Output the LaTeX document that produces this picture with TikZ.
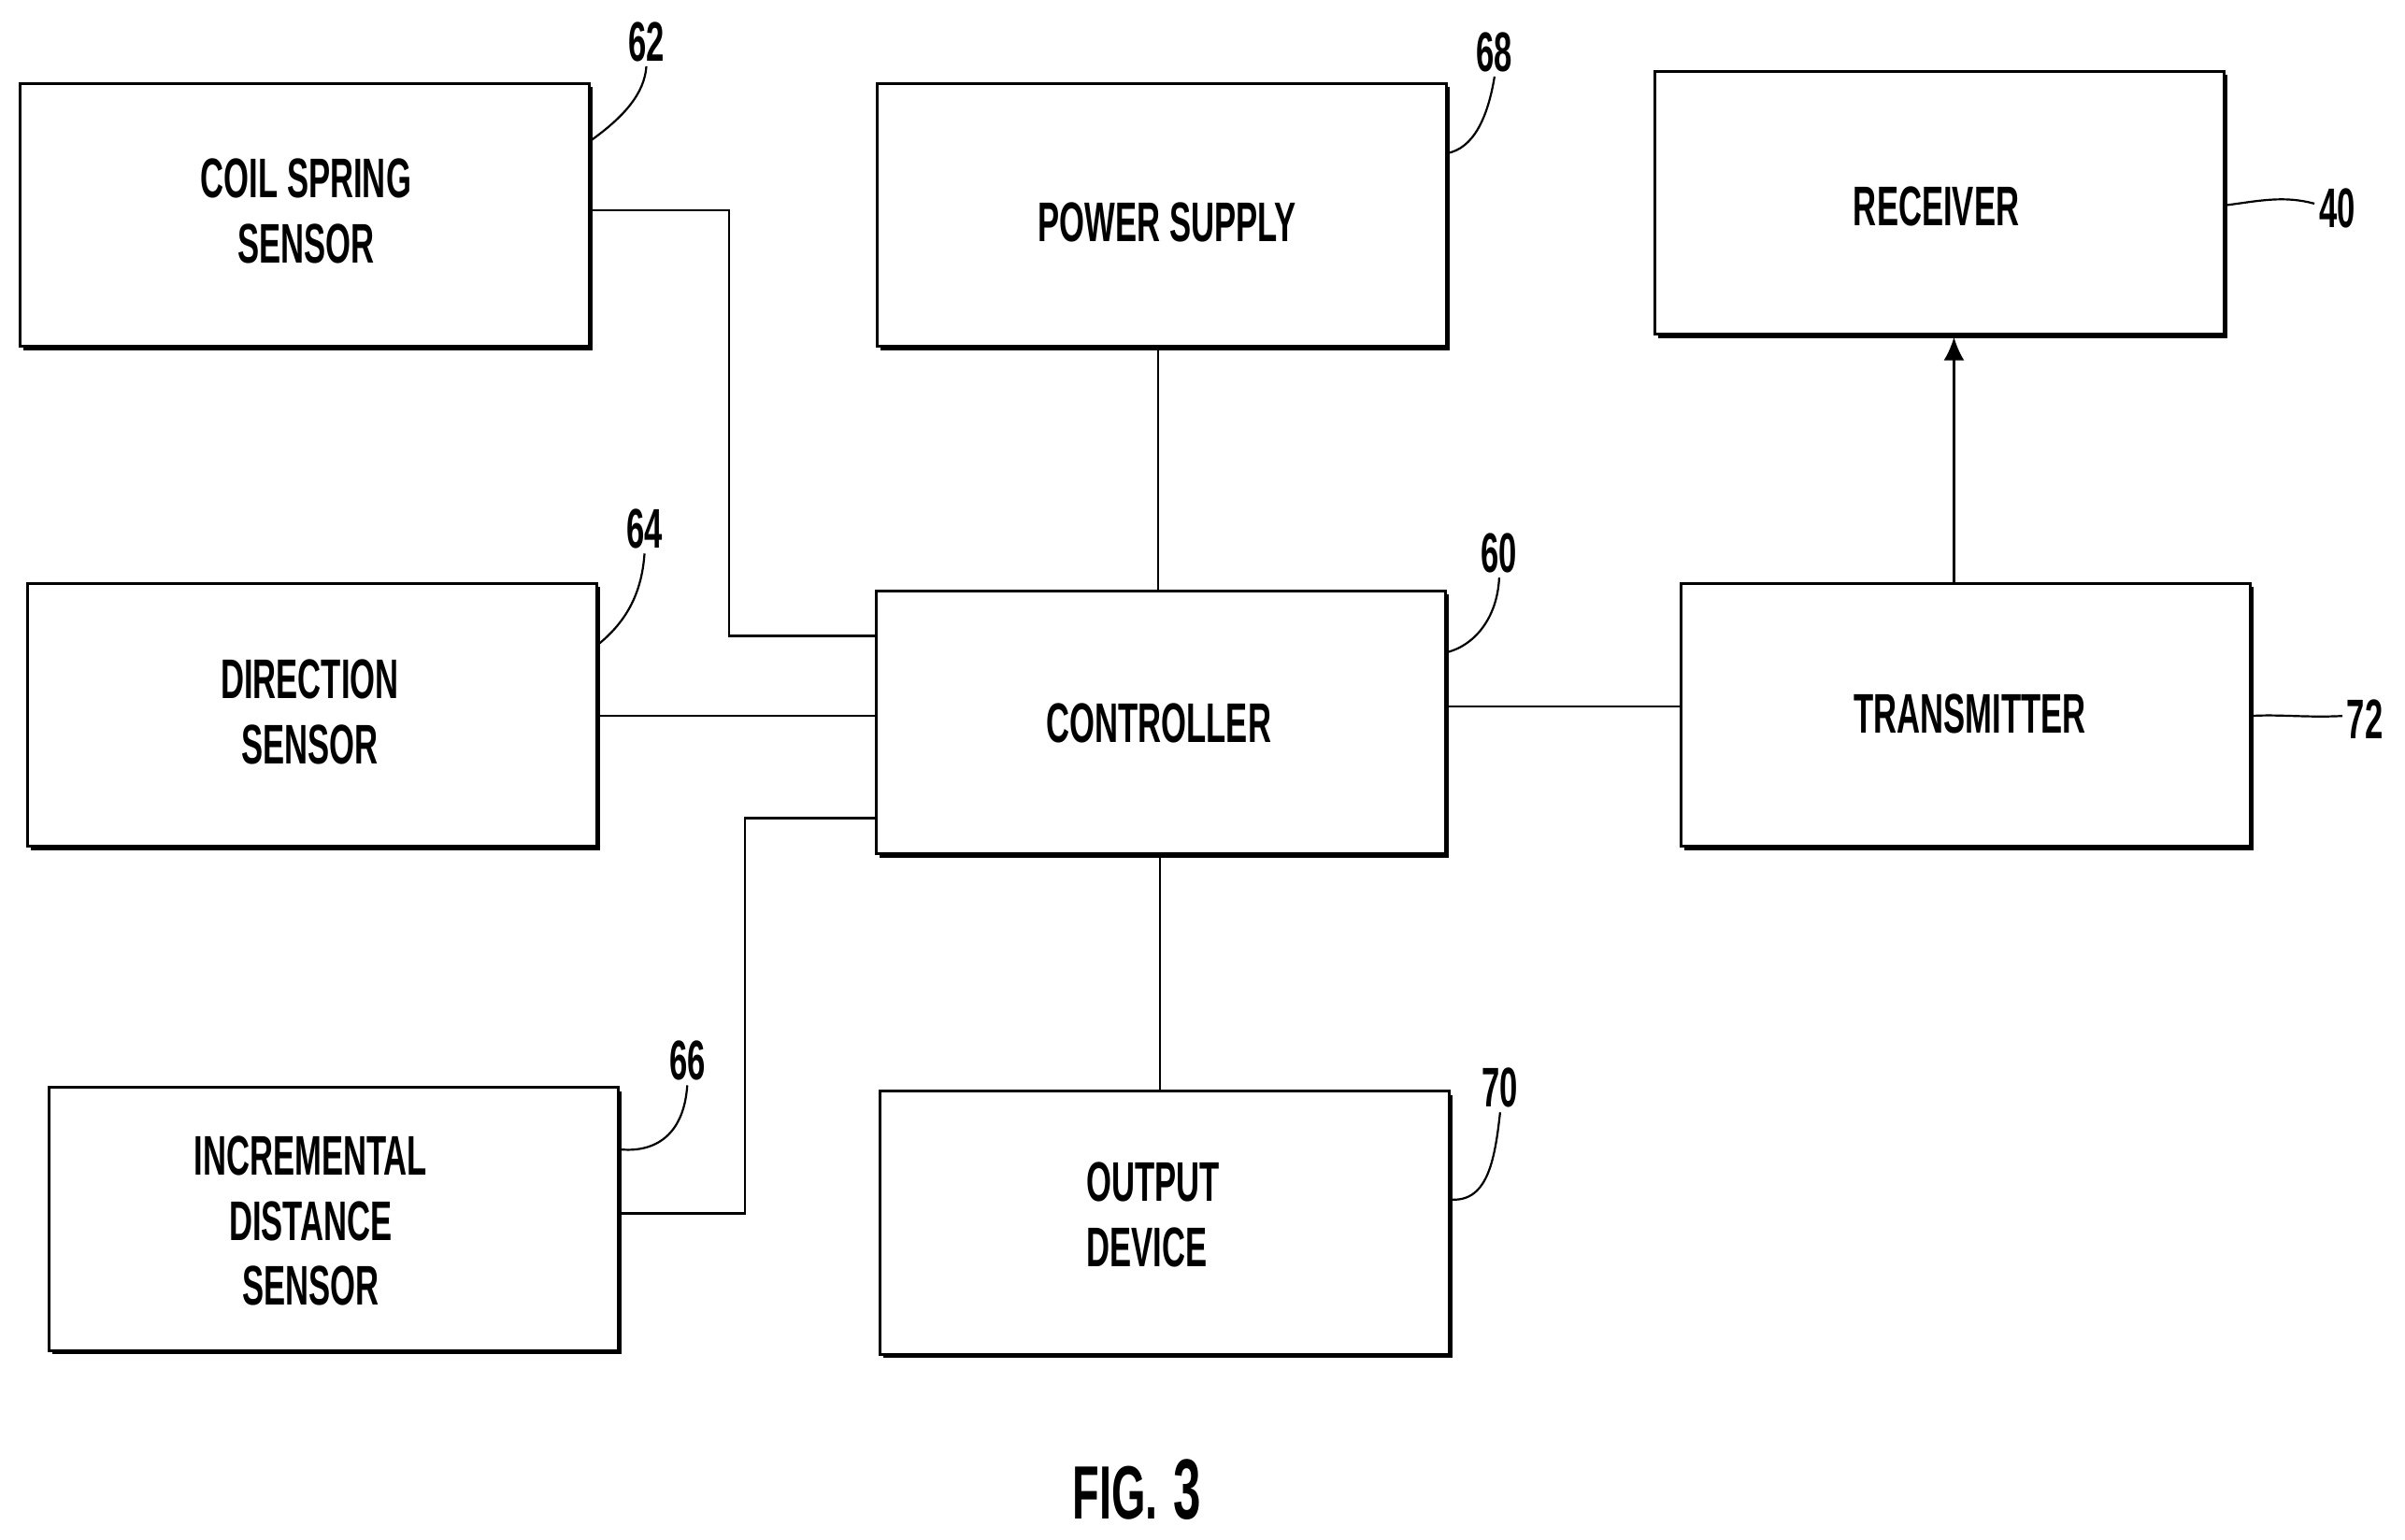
\documentclass[tikz,border=0pt]{standalone}
\usepackage{fontspec}
\setmainfont[FakeStretch=0.58]{Liberation Sans}
\usetikzlibrary{positioning,shadows,arrows.meta}

\begin{document}
\begin{tikzpicture}[x=0.00995cm,y=-0.00995cm,
                     block node/.style={rectangle,draw,fill=white,line width=0.03cm,outer sep=0pt,inner sep=0pt,
                       minimum width=6.09cm,minimum height=2.815cm,
                       drop shadow={shadow xshift=0.035cm,shadow yshift=-0.04cm,fill=black,opacity=1}},
                     text node/.style={inner sep=0pt,align=center,font=\bfseries\fontsize{17}{19.9}\selectfont},
                     ref node/.style={inner sep=0pt,outer sep=0.05cm,font=\bfseries\fontsize{17}{19.9}\selectfont},
                     wire/.style={line width=0.025cm},
                     leader/.style={line width=0.022cm}
                    ]
   \useasboundingbox (0,0) rectangle (2586,1656);
   \node[block node] (coil) at (328,231) {};
   \node[block node] (power) at (1249,231) {};
   \node[block node] (recv) at (2085,218) {};
   \node[block node] (dir) at (336,769) {};
   \node[block node] (ctrl) at (1248,777) {};
   \node[block node] (trans) at (2114,769) {};
   \node[block node] (incr) at (359,1311) {};
   \node[block node] (out) at (1252,1315) {};
   \node[text node] (coiltext) at (329,227) {COIL SPRING\\SENSOR};
   \node[text node] (powertext) at (1255,239) {POWER SUPPLY};
   \node[text node] (recvtext) at (2082,222) {RECEIVER};
   \node[text node] (dirtext) at (333,766) {DIRECTION\\SENSOR};
   \node[text node] (ctrltext) at (1246,778) {CONTROLLER};
   \node[text node] (transtext) at (2118,768) {TRANSMITTER};
   \node[text node] (incrtext) at (334,1313) {INCREMENTAL\\DISTANCE\\SENSOR};
   \node[text node,align=left] (outtext) at (1240,1306) {OUTPUT\\DEVICE};
   % reference numbers
   \node[ref node] (n62) at (695,45) {62};
   \node[ref node] (n68) at (1607,56) {68};
   \node[ref node] (n40) at (2513,224) {40};
   \node[ref node] (n64) at (693,569) {64};
   \node[ref node] (n60) at (1612,595) {60};
   \node[ref node] (n72) at (2543,773) {72};
   \node[ref node] (n66) at (739,1141) {66};
   \node[ref node] (n70) at (1613,1170) {70};
   \node[inner sep=0pt,font=\bfseries\fontsize{23}{26}\selectfont] (fig) at (1199,1606) {FIG.};
   \node[inner sep=0pt,font=\bfseries\fontsize{26}{29}\selectfont,base right=0.16cm of fig] (fignum) {3};
   % wires
   \coordinate (j1) at (784,226);
   \coordinate (j2) at (784,684);
   \coordinate (j3) at (801,1305);
   \coordinate (j4) at (801,880);
   \coordinate (j5) at (0,770);
   \coordinate (j6) at (0,760);
   \coordinate (j7) at (1245,0);
   \coordinate (j8) at (1247,0);
   \coordinate (j9) at (2101,0);
   \draw[wire] (coil.east |- j1) -- (j1) -- (j2) -- (ctrl.west |- j2);
   \draw[wire] (dir.east |- j5) -- (ctrl.west |- j5);
   \draw[wire] (incr.east |- j3) -- (j3) -- (j4) -- (ctrl.west |- j4);
   \draw[wire] (ctrl.east |- j6) -- (trans.west |- j6);
   \draw[wire] (power.south -| j7) -- (ctrl.north -| j7);
   \draw[wire] (ctrl.south -| j8) -- (out.north -| j8);
   \draw[wire,-{Latex[length=0.25cm,width=0.22cm]}] (trans.north -| j9) -- ([yshift=-0.03cm]recv.south -| j9);
   % leaders
   \coordinate (t62) at (0,152);
   \coordinate (t68) at (0,165);
   \coordinate (t40) at (0,221);
   \coordinate (e40) at (0,219);
   \coordinate (t64) at (0,694);
   \coordinate (t60) at (0,702);
   \coordinate (t72) at (0,770);
   \coordinate (e72) at (0,770);
   \coordinate (t66) at (0,1236);
   \coordinate (t70) at (0,1290);
   \draw[leader] (coil.east |- t62) .. controls (672,125) and (693,100) .. (n62.south);
   \draw[leader] (power.east |- t68) .. controls (1585,160) and (1600,125) .. (n68.south);
   \draw[leader] (recv.east |- t40) .. controls (2430,216) and (2455,210) .. (n40.west |- e40);
   \draw[leader] (dir.east |- t64) .. controls (672,670) and (690,640) .. (n64.south);
   \draw[leader] (ctrl.east |- t60) .. controls (1585,695) and (1610,665) .. (n60.south);
   \draw[leader] (trans.east |- t72) .. controls (2450,768) and (2480,772) .. (n72.west |- e72);
   \draw[leader] (incr.east |- t66) .. controls (700,1240) and (735,1225) .. (n66.south);
   \draw[leader] (out.east |- t70) .. controls (1598,1294) and (1607,1252) .. (n70.south);
\end{tikzpicture}
\end{document}
